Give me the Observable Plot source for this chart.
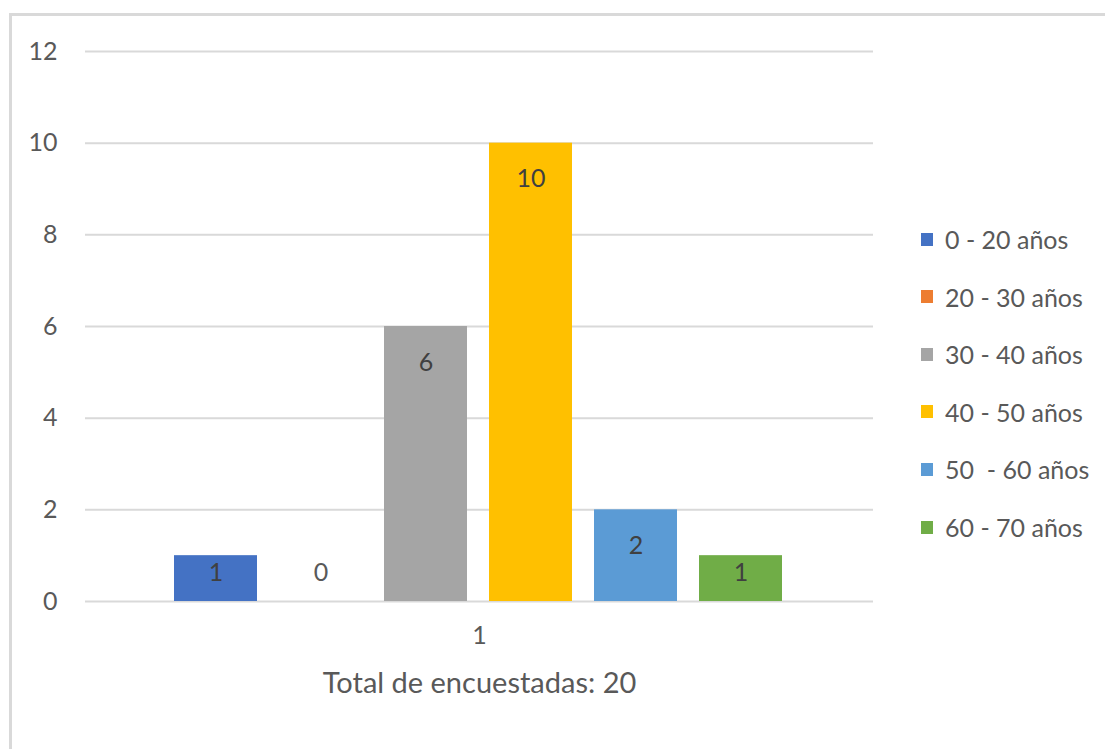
<!DOCTYPE html>
<html>
<head>
<meta charset="utf-8">
<script src="https://cdn.jsdelivr.net/npm/d3@7"></script>
<script src="https://cdn.jsdelivr.net/npm/@observablehq/plot@0.6"></script>
<style>
  html, body { margin: 0; padding: 0; background: #fff; overflow: hidden; }
  #wrap { position: relative; width: 1105px; height: 749px; overflow: hidden; font-family: Lato, "Open Sans", sans-serif; }
  #border { position: absolute; left: 9px; top: 13px; width: 1200px; height: 900px; border: 3px solid #D9D9D9; box-sizing: border-box; }
  #chart { position: absolute; left: 0; top: 0; }
  #legend { position: absolute; left: 921px; top: 0; }
  .item { position: absolute; left: 0; white-space: pre; display: flex; align-items: center; font-size: 25px; color: #595959; }
  .sw { width: 12px; height: 13px; margin-right: 12px; }
</style>
</head>
<body>
<div id="wrap">
  <div id="border"></div>
  <div id="chart"></div>
  <div id="legend"></div>
</div>
<script>
const categories = ["0 - 20 años", "20 - 30 años", "30 - 40 años", "40 - 50 años", "50  - 60 años", "60 - 70 años"];
const values = [1, 0, 6, 10, 2, 1];
const colors = ["#4472C4", "#ED7D31", "#A5A5A5", "#FFC000", "#5B9BD5", "#70AD47"];
const yTicks = [0, 2, 4, 6, 8, 10, 12];
const xTickLabel = "1";
const xAxisLabel = "Total de encuestadas: 20";

const data = categories.map((c, i) => ({category: c, value: values[i], color: colors[i]}));

const font = "Lato, 'Open Sans', sans-serif";
const chart = Plot.plot({
  width: 1105,
  height: 749,
  marginLeft: 85,
  marginRight: 232,
  marginTop: 51,
  marginBottom: 148,
  style: {fontFamily: font, fontSize: "25px", color: "#595959", background: "transparent"},
  x: {domain: categories, range: [174, 782], paddingInner: 0.21, paddingOuter: 0, axis: null},
  y: {domain: [0, 12], axis: null},
  marks: [
    Plot.ruleY(yTicks, {stroke: "#D9D9D9", strokeWidth: 2}),
    Plot.axisY(yTicks, {tickSize: 0, tickPadding: 28, fontSize: 25, fill: "#595959", label: null}),
    Plot.barY(data, {x: "category", y: "value", fill: "color"}),
    Plot.text(data.filter(d => d.value >= 2), {x: "category", y: "value", text: d => String(d.value), dy: 36, fill: "#404040", fontSize: 25}),
    Plot.text(data.filter(d => d.value > 0 && d.value < 2), {x: "category", y: "value", text: d => String(d.value), dy: 17, fill: "#404040", fontSize: 25}),
    Plot.text(data.filter(d => d.value === 0), {x: "category", y: "value", text: d => String(d.value), dy: -29, fill: "#595959", fontSize: 25}),
    Plot.text([xTickLabel], {text: d => d, frameAnchor: "bottom", dy: 42, fill: "#595959", fontSize: 25}),
    Plot.text([xAxisLabel], {text: d => d, frameAnchor: "bottom", dy: 91, fill: "#595959", fontSize: 29})
  ]
});
document.getElementById("chart").appendChild(chart);

const legend = document.getElementById("legend");
categories.forEach((c, i) => {
  const item = document.createElement("div");
  item.className = "item";
  item.style.top = (239 + i * 57.6 - 15) + "px";
  item.style.height = "30px";
  const sw = document.createElement("div");
  sw.className = "sw";
  sw.style.background = colors[i];
  const t = document.createElement("span");
  t.textContent = c;
  item.appendChild(sw);
  item.appendChild(t);
  legend.appendChild(item);
});
</script>
</body>
</html>
